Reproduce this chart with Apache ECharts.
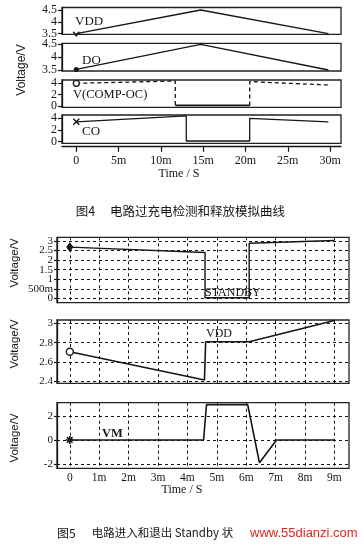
<!DOCTYPE html>
<html><head><meta charset="utf-8">
<script src="https://cdn.jsdelivr.net/npm/echarts@6/dist/echarts.min.js"></script>
<style>html,body{margin:0;padding:0;background:#fff}#c{width:364px;height:548px}</style>
</head><body><div id="c"></div>
<script>
// ---------- Figure 4 (time in ms) ----------
const f4TicksX = [0, 5, 10, 15, 20, 25, 30];
const f4VDD = [[0, 3.5], [14.7, 4.5], [29.8, 3.5]];
const f4DO = [[0, 3.52], [14.7, 4.5], [29.8, 3.5]];
const f4CompA = [[0, 4.0], [11.7, 4.4], [11.7, 0.1]];
const f4CompLow = [[11.7, 0.1], [20.5, 0.1]];
const f4CompB = [[20.5, 0.1], [20.5, 4.3], [29.8, 3.7]];
const f4CO = [[0, 3.4], [13, 4.4], [13, 0.12], [20.5, 0.12], [20.5, 4.0], [29.8, 3.4]];
const f4TicksVDD = [3.5, 4, 4.5];
const f4TicksDO = [3.5, 4, 4.5];
const f4TicksComp = [0, 2, 4];
const f4TicksCO = [0, 2, 4];

// ---------- Figure 5 (time in ms) ----------
const f5TicksX = [0, 1, 2, 3, 4, 5, 6, 7, 8, 9];
const f5Standby = [[0, 2.68], [4.6, 2.4], [4.6, 0.03], [6.1, 0.03], [6.1, 2.88], [9, 3.03]];
const f5VDD = [[0, 2.705], [4.58, 2.41], [4.62, 2.81], [6.1, 2.81], [9, 3.03]];
const f5VM = [[0, 0], [4.55, 0], [4.65, 2.95], [6.05, 2.95], [6.45, -1.9], [7.03, 0], [9, 0]];
const f5TicksStandby = [0, 0.5, 1, 1.5, 2, 2.5, 3];
const f5TicksVDD = [2.4, 2.6, 2.8, 3];
const f5TicksVM = [-2, 0, 2];

const INK = '#161616';
const SERIF = '"Liberation Serif","DejaVu Serif",serif';
const SANS = '"Liberation Sans","DejaVu Sans",sans-serif';
const CJK = '"Noto Sans CJK SC",sans-serif';

const gridDefs = [
  // fig 4
  {left: 62, width: 279, top: 7.5, height: 26.8},
  {left: 62, width: 279, top: 43.3, height: 27.7},
  {left: 62, width: 279, top: 80, height: 27.3},
  {left: 62, width: 279, top: 115, height: 28.3},
  // fig 5
  {left: 57, width: 292, top: 237.3, height: 65.4},
  {left: 57, width: 292, top: 320, height: 63.3},
  {left: 57, width: 292, top: 402.7, height: 65.6}
];
const yRanges = [[3.475, 4.605], [3.461, 4.539], [-0.23, 4.58], [-0.27, 4.56], [-0.23, 3.194], [2.376, 3.036], [-2.36, 3.108]];
const yTicks = [f4TicksVDD, f4TicksDO, f4TicksComp, f4TicksCO, f5TicksStandby, f5TicksVDD, f5TicksVM];

function fmtY(v) {
  if (Math.abs(v) < 1 && v !== 0) return Math.round(v * 1000) + 'm';
  return String(v);
}
function fmtX(v) { return v === 0 ? '0' : v + 'm'; }

const grid = gridDefs.map(g => Object.assign({show: true, borderColor: '#222', borderWidth: 1.3, containLabel: false}, g));

const xAxis = gridDefs.map((g, i) => {
  const fig4 = i < 4;
  const bottomAxis = (i === 3 || i === 6);
  return {
    type: 'value', gridIndex: i,
    min: fig4 ? -1.69 : -0.435, max: fig4 ? 31.29 : 9.495,
    offset: i === 3 ? 2.5 : 0,
    axisLine: {show: i === 3, onZero: false, lineStyle: {color: INK, width: 1.3}},
    axisTick: {show: i === 3, inside: false, length: 6, lineStyle: {color: INK, width: 1.2},
      customValues: fig4 ? f4TicksX : f5TicksX},
    axisLabel: {show: bottomAxis, customValues: fig4 ? f4TicksX : f5TicksX, formatter: fmtX,
      showMinLabel: true, showMaxLabel: true,
      fontFamily: SERIF, fontSize: fig4 ? 12 : 11.5, color: INK, margin: i === 3 ? 9 : 4},
    splitLine: {show: !fig4, lineStyle: {color: INK, type: [3, 3], width: 1}}
  };
});

// primary y axes (line, ticks, grid lines, even-indexed labels)
const yAxisPrimary = gridDefs.map((g, i) => {
  const fig4 = i < 4;
  return {
    type: 'value', gridIndex: i, min: yRanges[i][0], max: yRanges[i][1], position: 'left', offset: 0,
    axisLine: {show: true, onZero: false, lineStyle: {color: INK, width: 1.3}},
    axisTick: {show: true, inside: false, length: fig4 ? 4 : 3, lineStyle: {color: INK, width: 1.2}, customValues: yTicks[i]},
    axisLabel: {customValues: yTicks[i].filter((v, k) => k % 2 === 0), formatter: fmtY, fontFamily: SERIF,
      showMinLabel: true, showMaxLabel: true,
      fontSize: fig4 ? 12 : 11, color: INK, margin: fig4 ? 5 : 4},
    splitLine: {show: !fig4, lineStyle: {color: INK, type: [3, 3], width: 1}}
  };
});
// secondary y axes on the same side carrying the odd-indexed labels
const yAxisSecondary = gridDefs.map((g, i) => {
  const fig4 = i < 4;
  const odd = yTicks[i].filter((v, k) => k % 2 === 1);
  return {
    type: 'value', gridIndex: i, min: yRanges[i][0], max: yRanges[i][1], position: 'left', offset: 0,
    axisLine: {show: false}, axisTick: {show: false}, splitLine: {show: false},
    axisLabel: {show: odd.length > 0, customValues: odd, formatter: fmtY, fontFamily: SERIF,
      showMinLabel: true, showMaxLabel: true,
      fontSize: fig4 ? 12 : 11, color: INK, margin: fig4 ? 5 : 4}
  };
});
const yAxis = yAxisPrimary.concat(yAxisSecondary);

function mk(gi, pts, opt) {
  opt = opt || {};
  const data = pts.map((p, k) => {
    if (k === 0 && opt.marker) {
      return Object.assign({value: p}, opt.marker);
    }
    return p;
  });
  return {
    type: 'line', xAxisIndex: gi, yAxisIndex: gi, data: data,
    symbol: 'none', clip: false, silent: true, animation: false,
    lineStyle: {color: INK, width: opt.width || 1.3, type: opt.dash || 'solid'},
    z: 5
  };
}
const crossPath = 'path://M0,0L10,10M10,0L0,10';
const vPath = 'path://M0,0L5,6L10,0';
const starPath = 'path://M5,0L5,10M0,5L10,5M1.5,1.5L8.5,8.5M8.5,1.5L1.5,8.5';
const diaPath = 'path://M5,0L10,5L5,10L0,5Z';
const strokeStyle = {color: 'none', borderColor: INK, borderWidth: 1.4};

const series = [
  mk(0, f4VDD, {marker: {symbol: vPath, symbolSize: [6, 4], itemStyle: strokeStyle}}),
  mk(1, f4DO, {marker: {symbol: 'circle', symbolSize: 5, itemStyle: {color: INK}}}),
  mk(2, f4CompA, {dash: [4, 3], width: 1.3, marker: {symbol: 'circle', symbolSize: 6, itemStyle: {color: '#fff', borderColor: INK, borderWidth: 1.3}}}),
  mk(2, f4CompLow, {width: 1.8}),
  mk(2, f4CompB, {dash: [4, 3], width: 1.3}),
  mk(3, f4CO, {marker: {symbol: crossPath, symbolSize: 6, itemStyle: strokeStyle}}),
  mk(4, f5Standby, {width: 1.4, marker: {symbol: diaPath, symbolSize: [6, 8], itemStyle: {color: INK, borderColor: INK, borderWidth: 1}}}),
  mk(5, f5VDD, {width: 1.6, marker: {symbol: 'circle', symbolSize: 7, itemStyle: {color: '#fff', borderColor: INK, borderWidth: 1.4}}}),
  mk(6, f5VM, {width: 1.6, marker: {symbol: starPath, symbolSize: 8, itemStyle: {color: 'none', borderColor: INK, borderWidth: 1.6}}})
];

function txt(x, y, text, font, size, extra) {
  return Object.assign({
    type: 'text', x: x, y: y, z: 10, silent: true,
    style: Object.assign({text: text, fontFamily: font, fontSize: size, fill: INK,
      textAlign: 'left', textVerticalAlign: 'middle'}, (extra && extra.style) || {})
  }, extra && extra.rotation !== undefined ? {rotation: extra.rotation} : {});
}
const R = Math.PI / 2;
const graphic = [
  // fig 4 annotations
  txt(75, 21.5, 'VDD', SERIF, 13),
  txt(82, 61, 'DO', SERIF, 13),
  txt(73, 95, 'V(COMP-OC)', SERIF, 12.5),
  txt(82, 132, 'CO', SERIF, 13),
  txt(22, 70, 'Voltage/V', SANS, 12, {rotation: R, style: {textAlign: 'center'}}),
  txt(179, 174, 'Time / S', SERIF, 12, {style: {textAlign: 'center'}}),
  txt(75.7, 211.5, '图4', CJK, 12.5),
  txt(110, 211.5, '电路过充电检测和释放模拟曲线', CJK, 12.5),
  // fig 5 annotations
  txt(205, 293, 'STANDBY', SERIF, 12),
  txt(206, 334, 'VDD', SERIF, 12),
  txt(102, 434, 'VM', SERIF, 12.5, {style: {fontWeight: 'bold'}}),
  txt(15, 263, 'Voltage/V', SANS, 11.5, {rotation: R, style: {textAlign: 'center'}}),
  txt(15, 344, 'Voltage/V', SANS, 11.5, {rotation: R, style: {textAlign: 'center'}}),
  txt(15, 438, 'Voltage/V', SANS, 11.5, {rotation: R, style: {textAlign: 'center'}}),
  txt(182, 490, 'Time / S', SERIF, 12, {style: {textAlign: 'center'}}),
  txt(57, 533, '图5', CJK, 12),
  txt(91.7, 533, '电路进入和退出 Standby 状', CJK, 11.5),
  {type: 'rect', shape: {x: 246, y: 523, width: 118, height: 21}, style: {fill: '#fff'}, z: 11, silent: true},
  {type: 'text', x: 250, y: 533.5, z: 12, silent: true,
    style: {text: 'www.55dianzi.com', fontFamily: SANS, fontSize: 13, fill: '#e3241d', textAlign: 'left', textVerticalAlign: 'middle'}}
];

const chart = echarts.init(document.getElementById('c'), null, {renderer: 'canvas'});
chart.setOption({
  backgroundColor: '#fff',
  animation: false,
  grid: grid, xAxis: xAxis, yAxis: yAxis, series: series, graphic: graphic
});
</script></body></html>
